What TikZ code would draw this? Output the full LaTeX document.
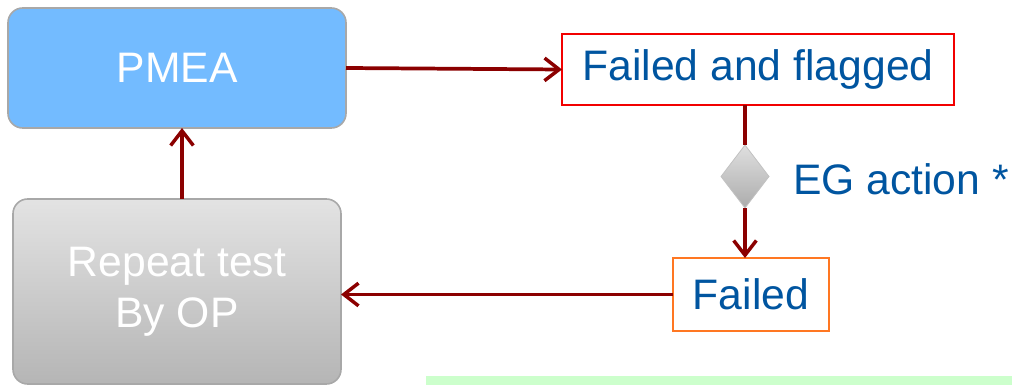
\documentclass[tikz,border=0pt]{standalone}
\usepackage{fontspec}
\setmainfont{Liberation Sans}
\usetikzlibrary{shapes.geometric,arrows.meta}
\definecolor{boxblue}{HTML}{73BBFF}
\definecolor{txtblue}{HTML}{0055A0}
\definecolor{arrred}{HTML}{8B0000}
\definecolor{bordergray}{HTML}{A8A8A8}
\definecolor{flagred}{HTML}{F20000}
\definecolor{failorange}{HTML}{FF7722}
\definecolor{barGreen}{HTML}{CCFFCC}
\tikzset{
  every node/.style={inner sep=0pt, outer sep=0pt, font=\fontsize{32pt}{38pt}\selectfont},
  roundbox/.style={rounded corners=11pt, draw=bordergray, line width=1.2pt, align=center, text=white},
  labelbox/.style={draw, line width=1.3pt, fill=white, text=txtblue},
  conn/.style={draw=arrred, line width=2.8pt, -{Straight Barb[length=11pt,width=17pt,line width=2.6pt]}},
  plainconn/.style={draw=arrred, line width=2.8pt},
}
\begin{document}
\begin{tikzpicture}[x=0.75pt,y=-0.75pt]
\useasboundingbox (0,0) rectangle (1012,385);
\fill[barGreen] (426,376) rectangle (1012,385);
\node[roundbox, fill=boxblue, minimum width=338*0.75pt, minimum height=120*0.75pt] (pmea) at (177,68) {PMEA};
\node[roundbox, top color=gray!22, middle color=gray!64, bottom color=gray!58, minimum width=328*0.75pt, minimum height=185*0.75pt] (rep) at (177,291.5) {Repeat test\\By OP};
\node[labelbox, draw=flagred, minimum width=392*0.75pt, minimum height=71*0.75pt] (ff) at (758,69.5) {Failed and flagged};
\node[diamond, draw=bordergray!70, line width=0.6pt, top color=gray!25, bottom color=gray!65, minimum width=48*0.75pt, minimum height=63*0.75pt] (dia) at (745,176.5) {};
\node[labelbox, draw=failorange, minimum width=156*0.75pt, minimum height=73*0.75pt] (fail) at (751,294.5) {Failed};
\node[anchor=base west, text=txtblue] (eg) at (793,194) {EG action *};
\draw[conn] (pmea.east) -- (ff.west);
\draw[plainconn] (dia.north |- ff.south) -- (dia.north);
\draw[conn] (dia.south) -- (dia.south |- fail.north);
\draw[conn] (fail.west) -- (rep.east |- fail.west);
\draw[conn] ([xshift=3.75pt]rep.north) -- ([xshift=3.75pt]pmea.south);
\end{tikzpicture}
\end{document}
